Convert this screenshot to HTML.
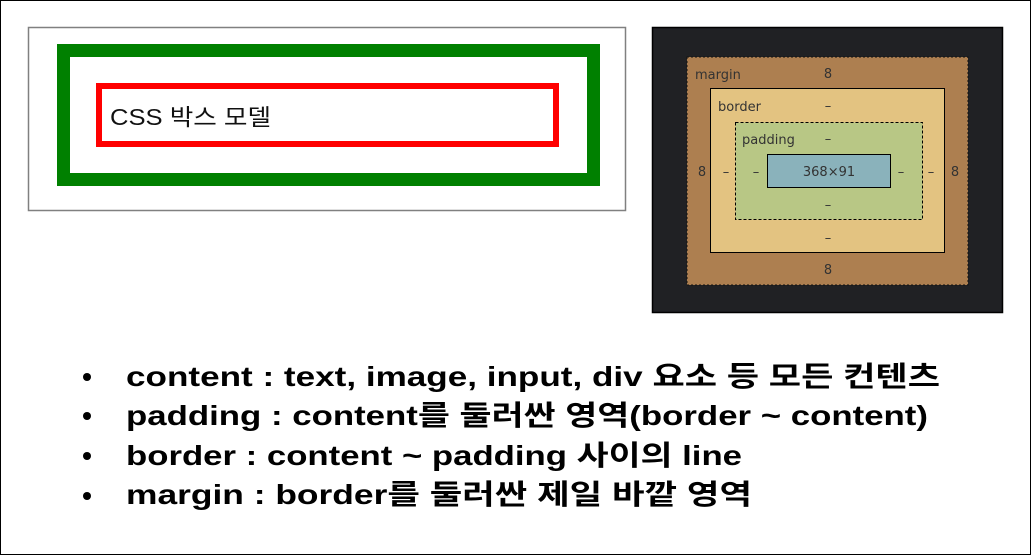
<!DOCTYPE html>
<html><head><meta charset="utf-8"><style>
html,body{margin:0;padding:0;background:#fff}
body{width:1031px;height:555px;overflow:hidden}
</style></head><body>
<svg width="1031" height="555" xmlns="http://www.w3.org/2000/svg">
<rect x="0.5" y="0.5" width="1030" height="554" fill="#fff" stroke="#000" stroke-width="1"/>
<rect x="28.5" y="27.5" width="597" height="183" fill="#fff" stroke="#808080" stroke-width="1.5"/>
<rect x="63.5" y="50.5" width="530" height="129" fill="none" stroke="#008000" stroke-width="13"/>
<rect x="99" y="86" width="457" height="58" fill="none" stroke="#ff0000" stroke-width="6"/>
<text x="110" y="125" font-family="Liberation Sans, Noto Sans CJK KR, sans-serif" font-size="23" fill="#111" textLength="161" lengthAdjust="spacingAndGlyphs">CSS 박스 모델</text>
<rect x="652.5" y="27.5" width="350" height="285" fill="#202124" stroke="#000" stroke-width="1.5"/>
<rect x="687" y="57" width="281" height="228" fill="#ad7f50" stroke="#111" stroke-width="1" stroke-dasharray="2,2"/>
<rect x="710.5" y="88.5" width="234" height="164" fill="#e3c381" stroke="#000" stroke-width="1"/>
<rect x="735.5" y="122.5" width="187" height="97" fill="#b8c785" stroke="#000" stroke-width="1" stroke-dasharray="3,2"/>
<rect x="767.5" y="154.5" width="123" height="33" fill="#8ab2bb" stroke="#000" stroke-width="1"/>
<g font-family="DejaVu Sans, sans-serif" font-size="13" fill="#333">
<text x="695" y="79">margin</text>
<text x="828" y="78" text-anchor="middle">8</text>
<text x="718" y="111">border</text>
<text x="828" y="110" text-anchor="middle">–</text>
<text x="742" y="144">padding</text>
<text x="828" y="143" text-anchor="middle">–</text>
<text x="829" y="176" text-anchor="middle">368×91</text>
<text x="702" y="176" text-anchor="middle">8</text>
<text x="726" y="176" text-anchor="middle">–</text>
<text x="756" y="176" text-anchor="middle">–</text>
<text x="901" y="176" text-anchor="middle">–</text>
<text x="931" y="176" text-anchor="middle">–</text>
<text x="955" y="176" text-anchor="middle">8</text>
<text x="828" y="209" text-anchor="middle">–</text>
<text x="828" y="242" text-anchor="middle">–</text>
<text x="828" y="274" text-anchor="middle">8</text>
</g>
<g font-family="Liberation Sans, Noto Sans CJK KR, sans-serif" font-size="28" font-weight="bold" fill="#000">
<circle cx="87" cy="377" r="4"/><circle cx="87" cy="416" r="4"/><circle cx="87" cy="456" r="4"/><circle cx="87" cy="496" r="4"/>
<text x="126" y="386" textLength="814" lengthAdjust="spacingAndGlyphs">content : text, image, input, div 요소 등 모든 컨텐츠</text>
<text x="126" y="425" textLength="802" lengthAdjust="spacingAndGlyphs">padding : content를 둘러싼 영역(border ~ content)</text>
<text x="126" y="465" textLength="616" lengthAdjust="spacingAndGlyphs">border : content ~ padding 사이의 line</text>
<text x="126" y="504" textLength="626" lengthAdjust="spacingAndGlyphs">margin : border를 둘러싼 제일 바깥 영역</text>
</g>
</svg>
</body></html>
